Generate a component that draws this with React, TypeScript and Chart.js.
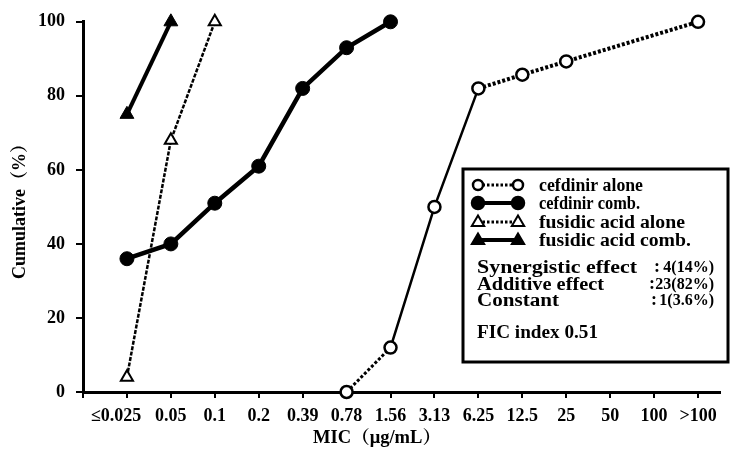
import React, { useEffect, useRef } from 'react';
import { Chart, registerables } from 'chart.js';

Chart.register(...registerables);

const categories = ['≤0.025', '0.05', '0.1', '0.2', '0.39', '0.78', '1.56', '3.13', '6.25', '12.5', '25', '50', '100', '>100'];
const cefdinirAlone: (number | null)[] = [null, null, null, null, null, 0, 12, 50, 82, 85.7, 89.3, null, null, 100];
const cefdinirComb: (number | null)[] = [36, 40, 51, 61, 82, 93, 100, null, null, null, null, null, null, null];
const fusidicAlone: (number | null)[] = [4, 68, 100, null, null, null, null, null, null, null, null, null, null, null];
const fusidicComb: (number | null)[] = [75, 100, null, null, null, null, null, null, null, null, null, null, null, null];
const yTicks = [0, 20, 40, 60, 80, 100];

const legendLabels = ['cefdinir alone', 'cefdinir comb.', 'fusidic acid alone', 'fusidic acid comb.'];
const statLabels = ['Synergistic effect', 'Additive effect', 'Constant'];
const statValues = ['4(14%)', '23(82%)', '1(3.6%)'];
const ficText = 'FIC index 0.51';
const xTitle = 'MIC（μg/mL）';
const yTitle = 'Cumulative（%）';

const FONT = "'Liberation Serif', 'Noto Serif CJK SC', 'Noto Sans CJK SC', serif";

function toPoints(arr: (number | null)[]) {
  const out: { x: number; y: number }[] = [];
  arr.forEach((v, i) => {
    if (v !== null) out.push({ x: i, y: v });
  });
  return out;
}

// draw text stretched horizontally to a target width
function fitText(ctx: CanvasRenderingContext2D, text: string, x: number, y: number, width: number, align: 'left' | 'center' | 'right') {
  const w = ctx.measureText(text).width;
  const sx = width / w;
  const left = align === 'left' ? x : align === 'center' ? x - width / 2 : x - width;
  ctx.save();
  ctx.translate(left, y);
  ctx.scale(sx, 1);
  ctx.textAlign = 'left';
  ctx.fillText(text, 0, 0);
  ctx.restore();
}

function drawTri(ctx: CanvasRenderingContext2D, x: number, y: number, r: number, filled: boolean) {
  ctx.beginPath();
  ctx.moveTo(x, y - r);
  ctx.lineTo(x + r * 0.95, y + r * 0.6);
  ctx.lineTo(x - r * 0.95, y + r * 0.6);
  ctx.closePath();
  ctx.fillStyle = filled ? '#000' : '#fff';
  ctx.fill();
  ctx.lineWidth = 2;
  ctx.strokeStyle = '#000';
  ctx.stroke();
}

function drawCirc(ctx: CanvasRenderingContext2D, x: number, y: number, r: number, filled: boolean) {
  ctx.beginPath();
  ctx.arc(x, y, r, 0, Math.PI * 2);
  ctx.fillStyle = filled ? '#000' : '#fff';
  ctx.fill();
  ctx.lineWidth = 2.5;
  ctx.strokeStyle = '#000';
  ctx.stroke();
}

const legendWidths = [104, 101, 146, 152];
const statWidths = [160, 127, 82];
const colonX = [657, 652, 654];

const boxPlugin = {
  id: 'boxLegend',
  afterDraw(chart: any) {
    const ctx: CanvasRenderingContext2D = chart.ctx;
    ctx.save();
    // x axis title
    ctx.fillStyle = '#000';
    ctx.font = `bold 18px ${FONT}`;
    ctx.textBaseline = 'middle';
    fitText(ctx, xTitle, 377, 438, 128, 'center');

    // legend box
    ctx.fillStyle = '#fff';
    ctx.fillRect(463, 169, 265, 193);
    ctx.lineWidth = 3;
    ctx.strokeStyle = '#000';
    ctx.strokeRect(463, 169, 265, 193);

    const rows = [185, 203, 222, 240];
    const x1 = 478;
    const x2 = 518;
    rows.forEach((y, i) => {
      const dotted = i % 2 === 0;
      ctx.beginPath();
      ctx.setLineDash(dotted ? [2.5, 2] : []);
      ctx.lineWidth = dotted ? 3 : 4;
      ctx.strokeStyle = '#000';
      ctx.moveTo(x1, y);
      ctx.lineTo(x2, y);
      ctx.stroke();
      ctx.setLineDash([]);
      if (i < 2) {
        drawCirc(ctx, x1, y, i === 0 ? 5 : 6, i === 1);
        drawCirc(ctx, x2, y, i === 0 ? 5 : 6, i === 1);
      } else {
        drawTri(ctx, x1, y, 6.5, i === 3);
        drawTri(ctx, x2, y, 6.5, i === 3);
      }
      ctx.fillStyle = '#000';
      ctx.font = `bold 18px ${FONT}`;
      ctx.textBaseline = 'middle';
      fitText(ctx, legendLabels[i], 539, y + 1, legendWidths[i], 'left');
    });

    const statRows = [268, 285, 301];
    statRows.forEach((y, i) => {
      ctx.fillStyle = '#000';
      ctx.font = `bold 18px ${FONT}`;
      ctx.textBaseline = 'middle';
      fitText(ctx, statLabels[i], 477, y, statWidths[i], 'left');
      ctx.textAlign = 'center';
      ctx.fillText(':', colonX[i], y - 1);
      ctx.font = `bold 16px ${FONT}`;
      ctx.textAlign = 'right';
      ctx.fillText(statValues[i], 714, y);
    });
    ctx.font = `bold 18px ${FONT}`;
    fitText(ctx, ficText, 477, 333, 121, 'left');
    ctx.restore();
  },
};

export default function App() {
  const ref = useRef<HTMLCanvasElement>(null);
  useEffect(() => {
    if (!ref.current) return;
    const tickFont = { family: FONT, size: 18, weight: 'bold' as const };
    const chart = new Chart(ref.current, {
      type: 'line',
      data: {
        datasets: [
          {
            label: legendLabels[0],
            data: toPoints(cefdinirAlone),
            borderColor: '#000',
            borderWidth: 4,
            borderDash: [3, 2],
            pointStyle: 'circle',
            pointRadius: 6,
            pointBorderWidth: 2.5,
            pointBackgroundColor: '#fff',
            pointBorderColor: '#000',
            tension: 0,
            clip: false,
            segment: {
              borderDash: (c: any) => (c.p0DataIndex === 1 || c.p0DataIndex === 2 ? [] : [3, 2]),
              borderWidth: (c: any) => (c.p0DataIndex === 1 || c.p0DataIndex === 2 ? 2.5 : c.p0DataIndex === 0 ? 3 : 4),
            },
          } as any,
          {
            label: legendLabels[1],
            data: toPoints(cefdinirComb),
            borderColor: '#000',
            borderWidth: 4.5,
            pointStyle: 'circle',
            pointRadius: 7,
            pointBorderWidth: 1,
            pointBackgroundColor: '#000',
            pointBorderColor: '#000',
            tension: 0,
            clip: false,
          } as any,
          {
            label: legendLabels[2],
            data: toPoints(fusidicAlone),
            borderColor: '#000',
            borderWidth: 2.5,
            borderDash: [4, 1.5],
            pointStyle: 'triangle',
            pointRadius: 7,
            pointBorderWidth: 2,
            pointBackgroundColor: '#fff',
            pointBorderColor: '#000',
            tension: 0,
            clip: false,
          } as any,
          {
            label: legendLabels[3],
            data: toPoints(fusidicComb),
            borderColor: '#000',
            borderWidth: 4,
            pointStyle: 'triangle',
            pointRadius: 8,
            pointBorderWidth: 1,
            pointBackgroundColor: '#000',
            pointBorderColor: '#000',
            tension: 0,
            clip: false,
          } as any,
        ],
      },
      options: {
        responsive: false,
        animation: false,
        layout: { padding: { top: 16, right: 11, left: 0, bottom: 0 } },
        plugins: { legend: { display: false }, tooltip: { enabled: false } },
        scales: {
          x: {
            type: 'linear',
            min: -1,
            max: 13.5,
            afterFit: (s: any) => {
              s.height = 59;
            },
            afterBuildTicks: (s: any) => {
              s.ticks = [-1, ...categories.map((_, i) => i)].map((v) => ({ value: v }));
            },
            grid: { drawOnChartArea: false, drawTicks: true, tickLength: 6, color: '#000', lineWidth: 2 },
            border: { display: true, color: '#000', width: 3 },
            ticks: {
              autoSkip: false,
              maxRotation: 0,
              minRotation: 0,
              padding: 8,
              color: '#000',
              font: tickFont,
              // the first label sits left of its tick in the original
              callback: (v: any) => (v >= 0 && v < categories.length ? (v === 0 ? categories[v] + '\u2003\u2009' : categories[v]) : ''),
            },
          },
          y: {
            type: 'linear',
            min: 0,
            max: 100,
            afterFit: (s: any) => {
              s.width = 83;
            },
            afterBuildTicks: (s: any) => {
              s.ticks = yTicks.map((v) => ({ value: v }));
            },
            grid: { drawOnChartArea: false, drawTicks: true, tickLength: 7, color: '#000', lineWidth: 2 },
            border: { display: true, color: '#000', width: 3 },
            ticks: { padding: 11, color: '#000', font: tickFont },
            title: {
              display: true,
              text: yTitle,
              color: '#000',
              font: { family: FONT, size: 18, weight: 'bold' },
              padding: { top: 10, bottom: 0 },
            },
          },
        },
      },
      plugins: [boxPlugin],
    });
    return () => chart.destroy();
  }, []);
  return (
    <div style={{ position: 'fixed', left: 0, top: 0, width: 731, height: 451, background: '#fff' }}>
      <canvas ref={ref} width={731} height={451} style={{ display: 'block' }} />
    </div>
  );
}
